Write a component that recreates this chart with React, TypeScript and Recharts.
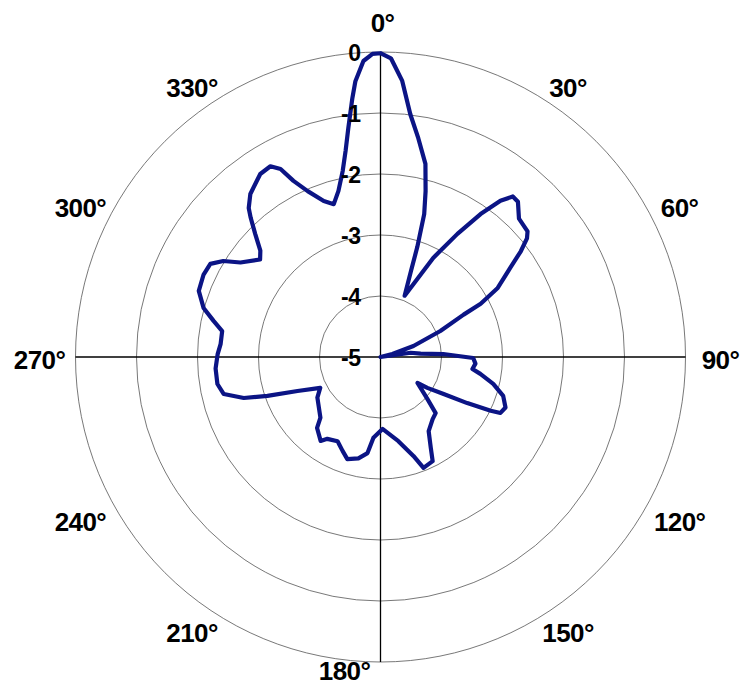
import { PolarAngleAxis, PolarGrid, PolarRadiusAxis, Radar, RadarChart } from "recharts";

// measured pattern: bearing in degrees (clockwise from north) and level in dB
const bearings = [
  0, 2, 4.5, 7, 9.8, 13.1, 15.2, 17, 18.5, 19.5, 21.5, 28, 32, 35, 37.5, 39.5, 41.5, 45, 49.5, 51, 53,
  55.5, 59.5, 62, 63, 66.5, 71.5, 76, 79, 82, 85.3, 87.3, 90.6, 94, 97.4, 99.6, 103.4, 107.6, 112, 115,
  116, 118, 120.4, 123.4, 125, 131.8, 135.5, 140, 147, 151, 153.4, 158.8, 161.6, 168, 178.4, 185, 187.7,
  192.3, 198, 202, 207, 213, 215.5, 221.8, 224.7, 237.3, 242.9, 247.7, 251, 253.3, 256.7, 260.6, 266,
  271, 274.6, 279.3, 282.2, 285.5, 290, 295, 298.7, 301.4, 304, 309, 311.5, 314.5, 317, 318.5, 321.4,
  326.7, 330, 332, 333.7, 336.3, 340, 343, 345.8, 348.5, 350.4, 352, 353.8, 354.8, 356.7, 358.5,
];
const levels = [
  -0.02, -0.1, -0.46, -0.99, -1.36, -1.75, -2.18, -2.55, -3.1, -3.5, -3.92, -3.16, -2.62, -2.14, -1.77,
  -1.59, -1.6, -1.79, -1.83, -1.91, -2.12, -2.42, -2.77, -3.14, -3.47, -3.93, -4.43, -4.8, -5, -4.5,
  -4.34, -3.97, -3.48, -3.44, -3.48, -3.34, -3.1, -2.89, -2.79, -2.83, -2.99, -3.39, -3.8, -4.08, -4.26,
  -3.97, -3.71, -3.67, -3.55, -3.3, -3.09, -3.05, -3.29, -3.59, -3.82, -3.67, -3.41, -3.3, -3.24, -3.34,
  -3.45, -3.4, -3.31, -3.44, -3.6, -3.77, -3.89, -3.53, -3.04, -2.66, -2.36, -2.29, -2.29, -2.33, -2.37,
  -2.37, -2.2, -1.99, -1.83, -1.8, -1.82, -1.98, -2.23, -2.46, -2.37, -2.12, -1.88, -1.74, -1.58, -1.41,
  -1.39, -1.51, -1.78, -2.03, -2.28, -2.38, -2.19, -1.89, -1.57, -1.21, -0.73, -0.46, -0.14, -0.03,
];
const bearingTicks = [0, 30, 60, 90, 120, 150, 180, 210, 240, 270, 300, 330];
const levelTicks = [-5, -4, -3, -2, -1, 0];

const data = bearings.map((bearing, i) => ({ bearing, level: levels[i] }));

const CX = 380.5;
const CY = 357;
const R = 305;
const FONT = "'Liberation Sans', Arial, Helvetica, sans-serif";

function BearingTick({ payload }: any) {
  const deg = Number(payload.value);
  const rad = (deg * Math.PI) / 180;
  let x = CX + R * Math.sin(rad);
  let y = CY - R * Math.cos(rad);
  if (deg === 0) {
    x += 2;
    y -= 29;
  } else {
    x += deg < 180 ? 35 : -36;
    const c = Math.cos(rad);
    y += c > 0.6 ? -5 : c > -0.4 ? 3 : deg === 180 ? 9 : 12;
  }
  return (
    <text x={x} y={y} textAnchor="middle" dominantBaseline="central" fontSize={26} fontWeight="bold" fontFamily={FONT} fill="#000" letterSpacing={-0.6}>
      {`${deg}°`}
    </text>
  );
}

function LevelTick({ x, y, payload }: any) {
  return (
    <text x={x - 20} y={y + 1} textAnchor="end" dominantBaseline="central" fontSize={23} fontWeight="bold" fontFamily={FONT} fill="#000" letterSpacing={-0.5}>
      {payload.value}
    </text>
  );
}

export default function App() {
  return (
    <div style={{ position: "absolute", left: 0, top: 0, width: 740, height: 686, background: "#fff" }}>
      <RadarChart width={740} height={686} data={data} cx={CX} cy={CY} outerRadius={R} startAngle={90} endAngle={-270} margin={{ top: 0, right: 0, bottom: 0, left: 0 }}>
        <PolarGrid gridType="circle" radialLines={false} stroke="#555" strokeWidth={0.8} />
        <PolarGrid gridType="circle" polarRadius={[]} polarAngles={[0, 90, 180, 270]} stroke="#000" strokeWidth={1.3} />
        <PolarAngleAxis dataKey="bearing" type="number" domain={[0, 360]} ticks={bearingTicks} tick={<BearingTick />} tickLine={false} axisLine={false} />
        <PolarRadiusAxis angle={90} type="number" domain={[-5, 0]} ticks={levelTicks} tickCount={6} tick={<LevelTick />} axisLine={false} tickLine={false} />
        <Radar dataKey="level" stroke="#0b1485" strokeWidth={4.2} strokeLinejoin="round" fill="none" fillOpacity={0} dot={false} isAnimationActive={false} />
      </RadarChart>
    </div>
  );
}
